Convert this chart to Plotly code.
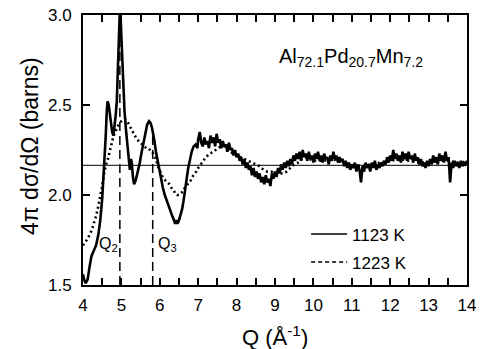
import plotly.graph_objects as go

# ---- data ----
q_1123 = [4.00, 4.03, 4.07, 4.12, 4.17, 4.22, 4.28, 4.34, 4.40, 4.45, 4.50, 4.55, 4.59, 4.62, 4.64,
          4.67, 4.70, 4.73, 4.76, 4.79, 4.82, 4.85, 4.88, 4.91, 4.94, 4.96, 4.98, 5.01, 5.04, 5.08,
          5.12, 5.16, 5.19, 5.22, 5.25, 5.27, 5.30, 5.33, 5.37, 5.42, 5.47, 5.52, 5.57, 5.62, 5.67,
          5.72, 5.76, 5.80, 5.83, 5.86, 5.90, 5.94, 5.98, 6.03, 6.08, 6.13, 6.18, 6.23, 6.28, 6.33,
          6.37, 6.40, 6.43, 6.46, 6.50, 6.54, 6.58, 6.62, 6.66, 6.70, 6.74, 6.78, 6.83, 6.88, 6.93,
          6.98,
          7.00, 7.04, 7.08, 7.12, 7.16, 7.20, 7.24, 7.28, 7.32, 7.36,
          7.40, 7.44, 7.48, 7.52, 7.56, 7.60, 7.64, 7.68, 7.72, 7.76,
          7.80, 7.84, 7.88, 7.92, 7.96, 8.00, 8.04, 8.08, 8.12, 8.16,
          8.20, 8.24, 8.28, 8.32, 8.36, 8.40, 8.44, 8.48, 8.52, 8.56,
          8.60, 8.64, 8.68, 8.72, 8.76, 8.80, 8.84, 8.88, 8.92, 8.96,
          9.00, 9.04, 9.08, 9.12, 9.16, 9.20, 9.24, 9.28, 9.32, 9.36,
          9.40, 9.44, 9.48, 9.52, 9.56, 9.60, 9.64, 9.68, 9.72, 9.76,
          9.80, 9.84, 9.88, 9.92, 9.96, 10.00, 10.04, 10.08, 10.12, 10.16,
          10.20, 10.24, 10.28, 10.32, 10.36, 10.40, 10.44, 10.48, 10.52, 10.56,
          10.60, 10.64, 10.68, 10.72, 10.76, 10.80, 10.84, 10.88, 10.92, 10.96,
          11.00, 11.04, 11.08, 11.12, 11.16, 11.20, 11.24, 11.28, 11.32, 11.36,
          11.40, 11.44, 11.48, 11.52, 11.56, 11.60, 11.64, 11.68, 11.72, 11.76,
          11.80, 11.84, 11.88, 11.92, 11.96, 12.00, 12.04, 12.08, 12.12, 12.16,
          12.20, 12.24, 12.28, 12.32, 12.36, 12.40, 12.44, 12.48, 12.52, 12.56,
          12.60, 12.64, 12.68, 12.72, 12.76, 12.80, 12.84, 12.88, 12.92, 12.96,
          13.00, 13.04, 13.08, 13.12, 13.16, 13.20, 13.24, 13.28, 13.32, 13.36,
          13.40, 13.44, 13.48, 13.52, 13.56, 13.60, 13.64, 13.68, 13.72, 13.76,
          13.80, 13.84, 13.88, 13.92, 13.96, 14.00]
s_1123 = [1.56, 1.53, 1.51, 1.53, 1.60, 1.66, 1.69, 1.72, 1.78, 1.86, 1.98, 2.14, 2.32, 2.47, 2.52,
          2.50, 2.44, 2.40, 2.35, 2.33, 2.38, 2.44, 2.52, 2.70, 2.92, 3.03, 2.98, 2.80, 2.62, 2.47,
          2.36, 2.28, 2.20, 2.14, 2.20, 2.18, 2.10, 2.06, 2.08, 2.12, 2.17, 2.23, 2.29, 2.35, 2.39,
          2.41, 2.40, 2.37, 2.34, 2.30, 2.24, 2.19, 2.14, 2.09, 2.04, 2.00, 1.97, 1.93, 1.90, 1.88,
          1.86, 1.84, 1.86, 1.84, 1.86, 1.89, 1.92, 1.97, 2.02, 2.09, 2.15, 2.20, 2.24, 2.27, 2.28,
          2.26,
          2.31, 2.35, 2.29, 2.27, 2.32, 2.28, 2.30, 2.26, 2.33, 2.29,
          2.32, 2.27, 2.34, 2.29, 2.31, 2.26, 2.30, 2.27, 2.28, 2.24,
          2.29, 2.25, 2.26, 2.22, 2.25, 2.21, 2.23, 2.19, 2.21, 2.17,
          2.20, 2.15, 2.18, 2.14, 2.16, 2.11, 2.15, 2.10, 2.13, 2.09,
          2.12, 2.07, 2.10, 2.06, 2.11, 2.07, 2.09, 2.05, 2.12, 2.09,
          2.13, 2.10, 2.15, 2.12, 2.17, 2.14, 2.18, 2.15, 2.19, 2.16,
          2.20, 2.17, 2.22, 2.19, 2.23, 2.20, 2.24, 2.19, 2.25, 2.21,
          2.23, 2.19, 2.24, 2.20, 2.22, 2.18, 2.23, 2.20, 2.24, 2.19,
          2.22, 2.18, 2.23, 2.20, 2.21, 2.17, 2.22, 2.19, 2.24, 2.20,
          2.22, 2.18, 2.21, 2.19, 2.20, 2.16, 2.19, 2.15, 2.18, 2.14,
          2.17, 2.15, 2.18, 2.13, 2.17, 2.14, 2.07, 2.16, 2.13, 2.18,
          2.15, 2.17, 2.13, 2.18, 2.15, 2.19, 2.14, 2.17, 2.15, 2.18,
          2.16, 2.19, 2.17, 2.21, 2.18, 2.22, 2.19, 2.25, 2.20, 2.23,
          2.19, 2.22, 2.18, 2.24, 2.20, 2.23, 2.19, 2.24, 2.20, 2.22,
          2.18, 2.23, 2.19, 2.21, 2.17, 2.20, 2.16, 2.18, 2.15, 2.19,
          2.16, 2.20, 2.17, 2.22, 2.18, 2.21, 2.17, 2.23, 2.19, 2.22,
          2.18, 2.24, 2.19, 2.21, 2.07, 2.18, 2.15, 2.19, 2.16, 2.18,
          2.15, 2.19, 2.16, 2.18, 2.17, 2.19]

q_1223 = [4.00, 4.05, 4.10, 4.15, 4.20, 4.25, 4.30, 4.35, 4.40, 4.45, 4.50, 4.55, 4.60, 4.65, 4.70,
          4.75, 4.80, 4.85, 4.90, 4.95, 5.00, 5.05, 5.10, 5.15, 5.20, 5.25, 5.30, 5.35, 5.40, 5.45,
          5.50, 5.55, 5.60, 5.65, 5.70, 5.75, 5.80, 5.85, 5.90, 5.95, 6.00, 6.05, 6.10, 6.15, 6.20,
          6.25, 6.30, 6.35, 6.40, 6.45, 6.50, 6.55, 6.60, 6.65, 6.70, 6.75, 6.80, 6.85, 6.90, 6.95,
          7.00, 7.10, 7.20, 7.30, 7.40, 7.50, 7.60, 7.70, 7.80, 7.90, 8.00, 8.10, 8.20, 8.30, 8.40,
          8.50, 8.60, 8.70, 8.80, 8.90, 9.00, 9.10, 9.20, 9.30, 9.40, 9.50, 9.60, 9.70, 9.80, 9.90,
          10.00, 10.25, 10.50, 10.75, 11.00, 11.25, 11.50, 11.75, 12.00, 12.25, 12.50, 12.75, 13.00,
          13.25, 13.50, 13.75, 14.00]
s_1223 = [1.72, 1.74, 1.75, 1.77, 1.79, 1.82, 1.85, 1.89, 1.94, 1.99, 2.05, 2.12, 2.17, 2.20, 2.25,
          2.29, 2.33, 2.36, 2.38, 2.40, 2.41, 2.42, 2.42, 2.41, 2.39, 2.37, 2.35, 2.33, 2.31, 2.30,
          2.29, 2.28, 2.27, 2.26, 2.26, 2.25, 2.24, 2.22, 2.20, 2.16, 2.13, 2.11, 2.09, 2.08, 2.07,
          2.06, 2.04, 2.03, 2.01, 2.00, 2.00, 2.01, 2.02, 2.04, 2.05, 2.07, 2.08, 2.10, 2.12, 2.13,
          2.15, 2.18, 2.21, 2.23, 2.24, 2.26, 2.27, 2.27, 2.25, 2.23, 2.22, 2.21, 2.20, 2.19, 2.18,
          2.17, 2.16, 2.14, 2.13, 2.13, 2.12, 2.12, 2.12, 2.13, 2.15, 2.17, 2.18, 2.20, 2.21, 2.20,
          2.19, 2.19, 2.20, 2.18, 2.17, 2.16, 2.17, 2.18, 2.19, 2.20, 2.19, 2.18, 2.18,
          2.19, 2.19, 2.18, 2.18]

baseline = 2.165          # horizontal reference level
q2, q2_top = 4.96, 2.93   # Q2 marker position and height
q3, q3_top = 5.815, 2.35  # Q3 marker position and height
label_y = 1.727

x_tickvals = [4, 5, 6, 7, 8, 9, 10, 11, 12, 13, 14]
x_ticktext = ["4", "5", "6", "7", "8", "9", "10", "11", "12", "13", "14"]
y_tickvals = [1.5, 2.0, 2.5, 3.0]
y_ticktext = ["1.5", "2.0", "2.5", "3.0"]

FONT = "Liberation Sans, Arial, Helvetica, sans-serif"

fig = go.Figure()

# baseline
fig.add_trace(go.Scatter(x=[4, 14], y=[baseline, baseline], mode="lines",
                         line=dict(color="black", width=1), showlegend=False, hoverinfo="skip"))
# Q2 / Q3 dashed markers
fig.add_trace(go.Scatter(x=[q2, q2], y=[1.5, q2_top], mode="lines",
                         line=dict(color="black", width=1.5, dash="9px,5px"), showlegend=False))
fig.add_trace(go.Scatter(x=[q3, q3], y=[1.5, q3_top], mode="lines",
                         line=dict(color="black", width=1.5, dash="9px,5px"), showlegend=False))

# data curves
fig.add_trace(go.Scatter(x=q_1223, y=s_1223, mode="lines",
                         line=dict(color="black", width=2.6, dash="2px,3px"), showlegend=False))
fig.add_trace(go.Scatter(x=q_1123, y=s_1123, mode="lines",
                         line=dict(color="black", width=2.6), showlegend=False))

# legend entries
fig.add_trace(go.Scatter(x=[None], y=[None], mode="lines", name="1123 K",
                         line=dict(color="black", width=1.5), legendgroup="a"))
fig.add_trace(go.Scatter(x=[None], y=[None], mode="lines", name="1223 K",
                         line=dict(color="black", width=1.5, dash="4px,3px"), legendgroup="b"))

fig.add_annotation(x=10.98, y=2.765, xref="x", yref="y", showarrow=False,
                   text="Al<sub>72.1</sub>Pd<sub>20.7</sub>Mn<sub>7.2</sub>",
                   font=dict(family=FONT, size=20, color="black"))
fig.add_annotation(x=4.66, y=label_y, xref="x", yref="y", showarrow=False,
                   text="Q<sub>2</sub>", font=dict(family=FONT, size=16, color="black"))
fig.add_annotation(x=6.19, y=label_y, xref="x", yref="y", showarrow=False,
                   text="Q<sub>3</sub>", font=dict(family=FONT, size=16, color="black"))
# y-axis title
fig.add_annotation(x=-0.138, y=0.515, xref="paper", yref="paper", showarrow=False,
                   xanchor="center", yanchor="middle", textangle=-90,
                   text="4π dσ/dΩ (barns)", font=dict(family=FONT, size=23, color="black"))
# x-axis title
fig.add_annotation(x=0.5, y=-0.19, xref="paper", yref="paper", showarrow=False,
                   xanchor="center", yanchor="middle",
                   text="Q (Å<sup>-1</sup>)", font=dict(family=FONT, size=22, color="black"))

axis_common = dict(showgrid=False, zeroline=False, showline=True, linewidth=2, linecolor="black",
                   ticks="inside", ticklen=7, tickwidth=1.5, tickcolor="black", mirror="ticks",
                   automargin=False,
                   tickfont=dict(family=FONT, size=17, color="black"))

fig.update_layout(
    width=481, height=349,
    margin=dict(l=83, r=14, t=15, b=64),
    paper_bgcolor="white", plot_bgcolor="white",
    xaxis=dict(range=[4, 14], tickmode="array", tickvals=x_tickvals, ticktext=x_ticktext,
               ticklabelstandoff=4,
               minor=dict(tickmode="linear", tick0=4, dtick=0.5, ticks="inside", ticklen=7,
                          tickwidth=1.5, tickcolor="black", showgrid=False),
               **axis_common),
    yaxis=dict(range=[1.5, 3.0], tickmode="array", tickvals=y_tickvals, ticktext=y_ticktext,
               ticklabelstandoff=6, **axis_common),
    legend=dict(x=0.581, y=0.254, xanchor="left", yanchor="top", bgcolor="rgba(0,0,0,0)",
                font=dict(family=FONT, size=17, color="black"), tracegroupgap=3,
                itemwidth=36),
)

fig.write_html("out.html")
